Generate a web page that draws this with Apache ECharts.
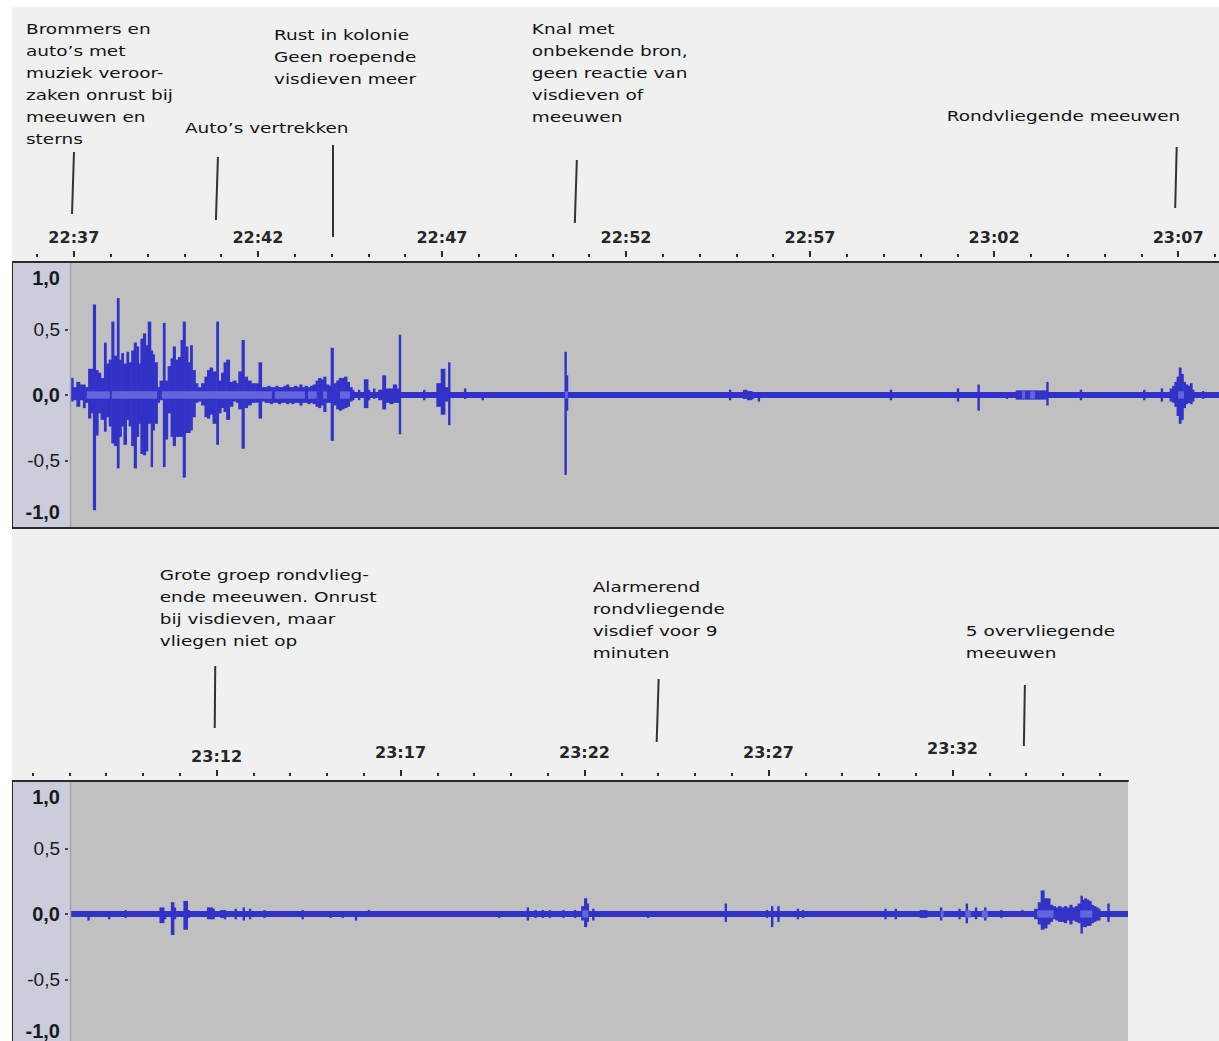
<!DOCTYPE html>
<html>
<head>
<meta charset="utf-8">
<script src="https://cdn.jsdelivr.net/npm/echarts@6/dist/echarts.min.js"></script>
<style>
html,body{margin:0;padding:0;background:#ffffff;}
#chart{width:1219px;height:1041px;}
</style>
</head>
<body>
<div id="chart"></div>
<script>
// ---------------- DATA (time t = minutes after 22:37, amplitude -1..1) ----------------
const clockOrigin = '22:37';
const topTickLabels = ['22:37','22:42','22:47','22:52','22:57','23:02','23:07'];
const bottomTickLabels = ['23:12','23:17','23:22','23:27','23:32'];
const yTickValues = [-1, -0.5, 0, 0.5, 1];
const yTickLabels = ['-1,0','-0,5','0,0','0,5','1,0'];
const yMarkedValues = [-0.5, 0, 0.5];

const topRange = [-1.68, 31.11];
const bottomRange = [29.44, 59.77];
const trackSpan = [-0.08, 59.77];
const floorLevel = 0.022;
const rmsLevel = 0.028;

const topT = [-0.06,0.01,0.10,0.19,0.28,0.34,0.42,0.49,0.55,0.62,0.69,0.76,0.85,0.91,0.98,1.05,1.12,1.20,1.26,1.32,1.38,1.46,1.52,1.59,1.66,1.73,1.79,1.84,1.91,1.98,2.04,2.12,2.17,2.22,2.30,2.36,2.45,2.51,2.58,2.66,2.72,2.79,2.86,2.93,2.99,3.06,3.13,3.19,3.25,3.33,3.40,3.49,3.58,3.65,3.72,3.80,3.90,3.96,4.03,4.10,4.17,4.26,4.35,4.44,4.50,4.59,4.66,4.75,4.85,4.96,5.05,5.13,
  5.22,5.29,5.36,5.43,5.51,5.58,5.65,5.73,5.80,5.87,5.94,6.01,6.09,6.16,6.23,6.30,6.38,6.45,6.52,6.60,6.67,6.74,6.81,6.88,6.96,7.01,7.08,7.16,7.23,7.30,7.37,7.45,7.52,7.59,7.75,7.91,8.02,8.16,8.30,8.41,8.50,8.61,8.70,8.80,8.86,9.52,9.88,10.00,10.11,10.20,10.63,
  11.11,13.36,13.40,17.83,18.21,18.32,18.45,18.61,22.20,24.02,24.58,25.35,25.62,25.69,25.76,25.83,25.90,25.97,26.04,26.11,26.18,26.25,26.32,26.39,26.45,27.36,29.08,29.56,
  29.80,29.87,29.93,29.99,30.05,30.11,30.17,30.23,30.29,30.35,30.41,30.68];
const topHi = [0.13,0.06,0.10,0.08,0.08,0.06,0.20,0.20,0.69,0.19,0.17,0.13,0.40,0.24,0.27,0.56,0.30,0.74,0.27,0.32,0.24,0.33,0.25,0.34,0.40,0.37,0.24,0.43,0.47,0.38,0.56,0.34,0.31,0.25,0.06,0.11,0.55,0.11,0.22,0.28,0.37,0.27,0.29,0.42,0.56,0.37,0.25,0.38,0.19,0.09,0.06,0.09,0.14,0.19,0.21,0.18,0.56,0.11,0.17,0.25,0.27,0.10,0.11,0.09,0.18,0.42,0.14,0.11,0.09,0.09,0.25,0.06,
  0.06,0.07,0.06,0.06,0.07,0.06,0.06,0.07,0.08,0.06,0.06,0.07,0.06,0.08,0.06,0.07,0.06,0.07,0.08,0.11,0.13,0.12,0.14,0.08,0.07,0.36,0.09,0.11,0.13,0.13,0.14,0.10,0.06,0.04,0.04,0.12,0.04,0.05,0.04,0.15,0.05,0.05,0.08,0.05,0.46,0.04,0.09,0.20,0.06,0.25,0.05,
  0.02,0.33,0.15,0.04,0.04,0.03,0.02,0.02,0.04,0.05,0.08,0.02,0.035,0.035,0.035,0.035,0.035,0.035,0.035,0.035,0.035,0.035,0.035,0.035,0.10,0.04,0.04,0.05,
  0.05,0.07,0.10,0.14,0.21,0.16,0.10,0.08,0.07,0.09,0.04,0.03];
const topLo = [-0.05,-0.04,-0.09,-0.04,-0.10,-0.06,-0.18,-0.14,-0.88,-0.31,-0.14,-0.19,-0.28,-0.17,-0.24,-0.37,-0.39,-0.56,-0.32,-0.24,-0.38,-0.19,-0.24,-0.39,-0.56,-0.32,-0.22,-0.45,-0.46,-0.43,-0.22,-0.55,-0.27,-0.22,-0.06,-0.04,-0.55,-0.34,-0.14,-0.32,-0.39,-0.32,-0.32,-0.32,-0.63,-0.29,-0.29,-0.27,-0.17,-0.06,-0.05,-0.08,-0.17,-0.18,-0.15,-0.22,-0.38,-0.14,-0.10,-0.13,-0.19,-0.09,-0.05,-0.06,-0.11,-0.41,-0.10,-0.08,-0.06,-0.06,-0.18,-0.05,
  -0.06,-0.06,-0.07,-0.06,-0.06,-0.07,-0.06,-0.06,-0.07,-0.06,-0.07,-0.06,-0.06,-0.08,-0.06,-0.06,-0.07,-0.06,-0.07,-0.09,-0.10,-0.08,-0.13,-0.06,-0.06,-0.35,-0.08,-0.11,-0.12,-0.11,-0.10,-0.09,-0.05,-0.04,-0.04,-0.10,-0.04,-0.03,-0.04,-0.11,-0.06,-0.07,-0.06,-0.06,-0.30,-0.04,-0.09,-0.15,-0.05,-0.23,-0.03,
  -0.04,-0.61,-0.12,-0.04,-0.03,-0.04,-0.03,-0.05,-0.04,-0.05,-0.12,-0.03,-0.035,-0.035,-0.035,-0.035,-0.035,-0.035,-0.035,-0.035,-0.035,-0.035,-0.035,-0.035,-0.08,-0.04,-0.04,-0.05,
  -0.05,-0.06,-0.09,-0.16,-0.22,-0.19,-0.10,-0.07,-0.06,-0.07,-0.05,-0.03];

const bottomT = [31.52,32.08,32.53,33.48,33.60,33.79,33.87,34.13,34.24,34.77,34.84,34.92,35.13,35.23,35.52,35.74,35.91,36.30,37.34,38.10,38.43,38.79,39.14,42.68,43.46,43.67,43.87,44.06,44.43,44.74,44.94,45.02,45.09,45.24,46.73,48.84,49.96,50.10,50.27,50.80,50.94,53.18,53.46,54.14,54.21,54.29,54.69,55.19,55.39,55.64,55.89,56.33,56.90,
  57.25,57.35,57.43,57.52,57.60,57.68,57.75,57.83,57.90,57.98,58.06,58.13,58.21,58.28,58.36,58.43,58.51,58.56,58.61,58.67,58.73,58.80,58.86,58.93,58.99,59.24];
const bottomHi = [0.02,0.02,0.03,0.05,0.01,0.09,0.05,0.10,0.03,0.05,0.05,0.04,0.03,0.03,0.04,0.05,0.04,0.03,0.03,0.01,0.01,0.01,0.03,0.01,0.05,0.03,0.03,0.03,0.03,0.03,0.06,0.12,0.08,0.04,0.00,0.08,0.03,0.06,0.06,0.04,0.03,0.04,0.04,0.03,0.03,0.03,0.05,0.04,0.08,0.05,0.05,0.03,0.03,
  0.04,0.09,0.18,0.12,0.12,0.07,0.06,0.05,0.06,0.05,0.06,0.05,0.07,0.05,0.06,0.08,0.14,0.11,0.12,0.11,0.10,0.07,0.06,0.05,0.04,0.08];
const bottomLo = [-0.05,-0.04,-0.03,-0.07,-0.04,-0.16,-0.04,-0.12,-0.03,-0.04,-0.04,-0.04,-0.03,-0.04,-0.04,-0.05,-0.04,-0.03,-0.04,-0.03,-0.03,-0.05,-0.02,-0.03,-0.05,-0.03,-0.03,-0.03,-0.03,-0.03,-0.05,-0.10,-0.06,-0.05,-0.03,-0.06,-0.03,-0.10,-0.06,-0.04,-0.03,-0.04,-0.04,-0.03,-0.03,-0.03,-0.05,-0.04,-0.07,-0.04,-0.05,-0.03,-0.02,
  -0.04,-0.08,-0.12,-0.11,-0.08,-0.06,-0.04,-0.05,-0.06,-0.06,-0.07,-0.05,-0.08,-0.05,-0.06,-0.07,-0.15,-0.10,-0.10,-0.09,-0.09,-0.07,-0.06,-0.05,-0.05,-0.06];

const topRmsStart = [0.35,1.03,2.39,5.46,6.36,6.77,7.23,13.34,25.76,25.98,30.00];
const topRmsEnd   = [0.98,2.26,5.38,6.28,6.60,6.88,7.50,13.42,25.84,26.11,30.16];
const bottomRmsStart = [44.94,54.68,55.35,55.80,57.30,58.47];
const bottomRmsEnd   = [45.10,54.76,55.50,55.96,57.75,58.80];

const topNoteT = [-0.05, 3.86, 7.04, 13.61, 29.92];
const topNoteText = [
  'Brommers en\nauto’s met\nmuziek veroor-\nzaken onrust bij\nmeeuwen en\nsterns',
  'Auto’s vertrekken',
  'Rust in kolonie\nGeen roepende\nvisdieven meer',
  'Knal met\nonbekende bron,\ngeen reactie van\nvisdieven of\nmeeuwen',
  'Rondvliegende meeuwen'
];
const bottomNoteT = [34.95, 46.96, 56.94];
const bottomNoteText = [
  'Grote groep rondvlieg-\nende meeuwen. Onrust\nbij visdieven, maar\nvliegen niet op',
  'Alarmerend\nrondvliegende\nvisdief voor 9\nminuten',
  '5 overvliegende\nmeeuwen'
];

// ---------------- LAYOUT / STYLE ----------------
const WAVE = '#3232c8', RMS = '#6464dc', PLOT_BG = '#c0c0c0', VRULER_BG = '#ccccdc', PAGE_BG = '#f0f0f0';
const DARK = '#2b2b2b';
const HALF_W = 1.2;       // half width (px) of an isolated peak column
const JOIN_GAP = 0.13;    // peaks closer than this (minutes) are drawn as a continuous body
const panels = [
  {left: 12, right: 0, top: 262, height: 266, plotLeft: 71},
  {left: 12, right: 91, top: 781, height: 266, plotLeft: 71}
];
// vertical nudge (px, negative = up) of each ruler label, as placed in the picture
const topTickNudge = [0, 0, 0, 0, 0, 0, 0];
const bottomTickNudge = [0, -4, -4, -4, -8];
const topNoteLayout = [
  {dx: -46, y: 18.5, top: 152, bottom: 214, lean: 2},
  {dx: -31, y: 117, top: 157, bottom: 220, lean: 2},
  {dx: -59, y: 24.5, top: 145, bottom: 237, lean: 0},
  {dx: -43, y: 18.5, top: 160, bottom: 223, lean: 2},
  {dx: -228.5, y: 105.7, top: 147, bottom: 208, lean: 1.5}
];
const bottomNoteLayout = [
  {dx: -55, y: 564, top: 666, bottom: 728, lean: 0.5},
  {dx: -64, y: 576.5, top: 679, bottom: 742, lean: 2},
  {dx: -58, y: 620.5, top: 685, bottom: 746, lean: 1}
];

// ---------------- HELPERS ----------------
function clockToT(s) {
  const [h, m] = s.split(':').map(Number);
  const [h0, m0] = clockOrigin.split(':').map(Number);
  return h * 60 + m - (h0 * 60 + m0);
}
const tickMap = {};
function registerTicks(labels, nudges) {
  labels.forEach((l, i) => { tickMap[clockToT(l).toFixed(3)] = {label: l, nudge: nudges[i]}; });
}
registerTicks(topTickLabels, topTickNudge);
registerTicks(bottomTickLabels, bottomTickNudge);
function timeLabel(v) {
  const e = tickMap[Number(v).toFixed(3)];
  if (!e) return '';
  if (e.nudge === 0) return '{n|' + e.label + '}';
  return '{u' + (-e.nudge) + '|' + e.label + '}';
}
const timeRich = {};
[0, 4, 8].forEach(k => {
  timeRich[k === 0 ? 'n' : 'u' + k] = {color: '#262626', fontFamily: 'DejaVu Sans', fontWeight: 'bold', fontSize: 16, padding: [0, 0, k, 0]};
});
function minorTicks(range, labels) {
  const majors = labels.map(clockToT);
  const out = [];
  for (let m = Math.ceil(range[0]); m <= range[1]; m++) if (majors.indexOf(m) < 0) out.push(m);
  return out;
}
function zip3(a, b, c) { return a.map((v, i) => [v, b[i], c[i]]); }

function peakRenderer(T) {
  return function (params, api) {
    const i = params.dataIndex;
    const t = api.value(0), hi = api.value(1), lo = api.value(2);
    const a = api.coord([t, hi]), b = api.coord([t, lo]);
    let x1 = a[0] - HALF_W, x2 = a[0] + HALF_W;
    const next = T[i + 1];
    if (next !== undefined && next - t < JOIN_GAP) {
      x2 = Math.max(x2, api.coord([next, 0])[0] - HALF_W + 0.6);
    }
    return {type: 'rect', shape: {x: x1, y: a[1], width: x2 - x1, height: Math.max(1, b[1] - a[1])}, style: {fill: WAVE}};
  };
}
function bandRenderer(color) {
  return function (params, api) {
    const s = api.value(0), e = api.value(1), lv = api.value(2);
    const p1 = api.coord([s, lv]), p2 = api.coord([e, -lv]);
    const cs = params.coordSys;
    const x1 = Math.max(p1[0], cs.x), x2 = Math.min(p2[0], cs.x + cs.width);
    if (x2 <= x1) return null;
    return {type: 'rect', shape: {x: x1, y: p1[1], width: Math.max(1, x2 - x1), height: p2[1] - p1[1]}, style: {fill: color}};
  };
}

const yLabelRich = {
  t: {fontFamily: 'Liberation Sans', fontWeight: 'bold', fontSize: 20, color: '#1a1a1a', padding: [28, 0, 0, 0]},
  b: {fontFamily: 'Liberation Sans', fontWeight: 'bold', fontSize: 20, color: '#1a1a1a', padding: [0, 0, 28, 0]},
  z: {fontFamily: 'Liberation Sans', fontWeight: 'bold', fontSize: 20, color: '#1a1a1a'}
};
function yLabel(v) {
  const i = yTickValues.indexOf(v);
  const s = i >= 0 ? yTickLabels[i] : '';
  if (v === 1) return '{t|' + s + '}';
  if (v === -1) return '{b|' + s + '}';
  if (v === 0) return '{z|' + s + '}';
  return s;
}

function panelAxes(gi, range, labels) {
  const majors = labels.map(clockToT);
  const base = {gridIndex: gi, type: 'value', min: range[0], max: range[1], splitLine: {show: false}, z: 10};
  const noZero = {onZero: false};
  const x = [
    Object.assign({}, base, {position: 'top', axisLine: Object.assign({show: true, lineStyle: {color: DARK, width: 2}}, noZero), axisTick: {show: false}, axisLabel: {show: false}}),
    Object.assign({}, base, {position: 'top', offset: 5, axisLine: Object.assign({show: false}, noZero),
      axisTick: {show: true, length: 6, lineStyle: {color: DARK, width: 2}, customValues: majors},
      axisLabel: {show: true, customValues: majors, margin: 12, formatter: timeLabel, rich: timeRich}}),
    Object.assign({}, base, {position: 'top', offset: 5, axisLine: Object.assign({show: false}, noZero),
      axisTick: {show: true, length: 3, lineStyle: {color: DARK, width: 2}, customValues: minorTicks(range, labels)},
      axisLabel: {show: false}}),
    Object.assign({}, base, {position: 'bottom', axisLine: Object.assign({show: true, lineStyle: {color: DARK, width: 2}}, noZero), axisTick: {show: false}, axisLabel: {show: false}})
  ];
  const ybase = {gridIndex: gi, type: 'value', min: -1.015, max: 1.015, splitLine: {show: false}, z: 10};
  const y = [
    Object.assign({}, ybase, {position: 'left', offset: -(panels[gi].plotLeft - 3 - panels[gi].left), axisLine: {show: false, onZero: false},
      axisTick: {show: true, length: 3, customValues: yMarkedValues, lineStyle: {color: '#1a1a1a', width: 1.5}},
      axisLabel: {show: true, customValues: yTickValues, margin: 8, color: '#1a1a1a', fontFamily: 'Liberation Sans', fontSize: 19, formatter: yLabel, rich: yLabelRich}}),
    Object.assign({}, ybase, {position: 'left', offset: 0, axisLine: {show: true, onZero: false, lineStyle: {color: DARK, width: 2}}, axisTick: {show: false}, axisLabel: {show: false}})
  ];
  return {x, y};
}

const A0 = panelAxes(0, topRange, topTickLabels);
const A1 = panelAxes(1, bottomRange, bottomTickLabels);

function panelSeries(xi, yi, T, H, L, rs, re) {
  return [
    {type: 'custom', xAxisIndex: xi, yAxisIndex: yi, z: 2, silent: true, renderItem: bandRenderer(WAVE), data: [[trackSpan[0], trackSpan[1], floorLevel]]},
    {type: 'custom', xAxisIndex: xi, yAxisIndex: yi, z: 3, silent: true, renderItem: peakRenderer(T), data: zip3(T, H, L)},
    {type: 'custom', xAxisIndex: xi, yAxisIndex: yi, z: 4, silent: true, renderItem: bandRenderer(RMS), data: rs.map((s, i) => [s, re[i], rmsLevel])}
  ];
}

const chart = echarts.init(document.getElementById('chart'), null, {renderer: 'svg', width: 1219, height: 1041});
chart.setOption({
  animation: false,
  backgroundColor: PAGE_BG,
  grid: panels.map(p => ({left: p.left, right: p.right, top: p.top, height: p.height, show: true, backgroundColor: PLOT_BG, borderWidth: 0, outerBoundsMode: 'none', containLabel: false})),
  xAxis: A0.x.concat(A1.x),
  yAxis: A0.y.concat(A1.y),
  series: panelSeries(0, 0, topT, topHi, topLo, topRmsStart, topRmsEnd)
    .concat(panelSeries(4, 2, bottomT, bottomHi, bottomLo, bottomRmsStart, bottomRmsEnd))
});

// ---------------- ANNOTATIONS & DECOR ----------------
const graphics = [];
panels.forEach(p => {
  graphics.push({type: 'rect', z: 6, silent: true, shape: {x: p.left, y: p.top, width: p.plotLeft - p.left, height: p.height}, style: {fill: VRULER_BG}});
  graphics.push({type: 'line', z: 6, silent: true, shape: {x1: p.plotLeft - 0.5, y1: p.top, x2: p.plotLeft - 0.5, y2: p.top + p.height}, style: {stroke: '#a2a2b0', lineWidth: 1.5}});
});
function addNotes(xAxisIndex, times, texts, layout) {
  times.forEach((t, i) => {
    const x = chart.convertToPixel({xAxisIndex: xAxisIndex}, t);
    const L = layout[i];
    graphics.push({type: 'line', z: 12, silent: true, shape: {x1: x + L.lean, y1: L.top, x2: x, y2: L.bottom}, style: {stroke: '#333333', lineWidth: 2}});
    graphics.push({type: 'text', z: 12, silent: true, x: x + L.dx, y: L.y, scaleX: 1.32,
      style: {text: texts[i], fontFamily: 'DejaVu Sans', fontSize: 14, lineHeight: 22, fill: '#141414', align: 'left', verticalAlign: 'top'}});
  });
}
addNotes(0, topNoteT, topNoteText, topNoteLayout);
addNotes(4, bottomNoteT, bottomNoteText, bottomNoteLayout);
graphics.push({type: 'rect', z: 20, silent: true, shape: {x: 0, y: 0, width: 12, height: 1041}, style: {fill: '#ffffff'}});
graphics.push({type: 'rect', z: 20, silent: true, shape: {x: 0, y: 0, width: 1219, height: 7}, style: {fill: '#ffffff'}});
chart.setOption({graphic: graphics});
</script>
</body>
</html>
